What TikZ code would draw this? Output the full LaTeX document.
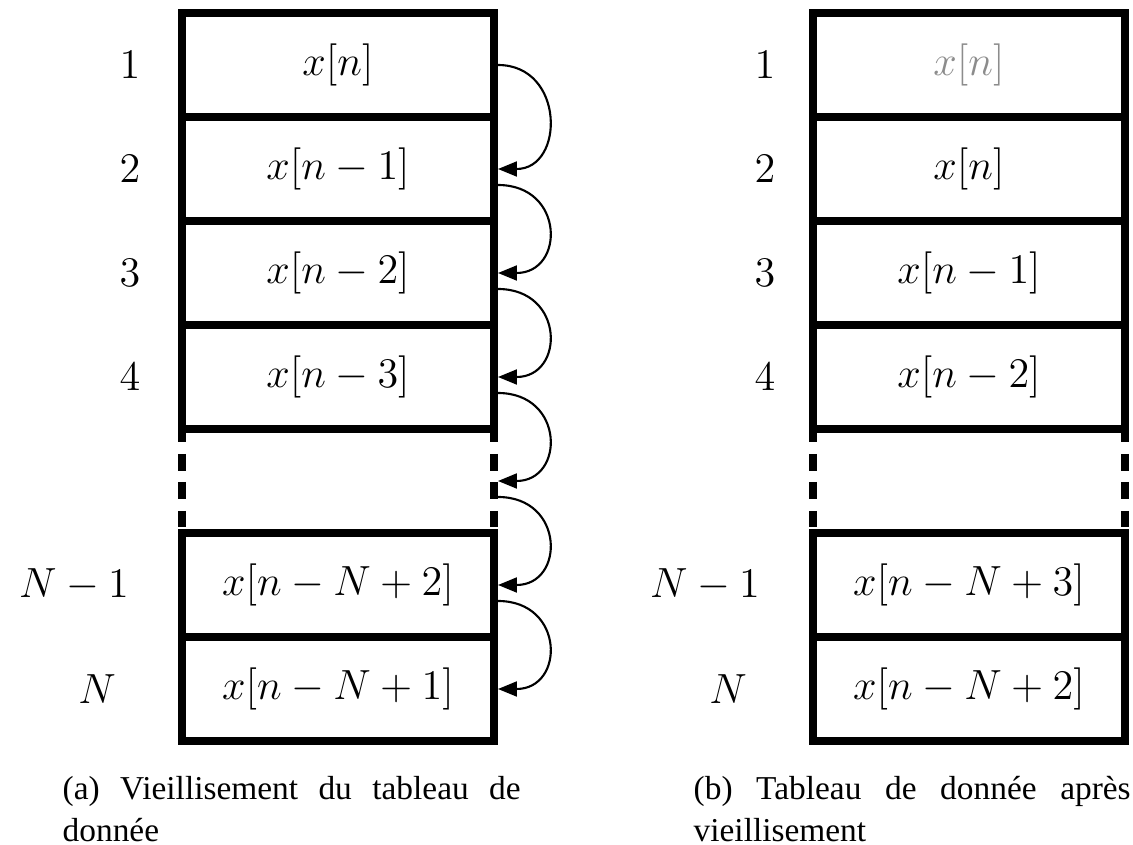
\documentclass[tikz,border=0pt,12pt]{standalone}
\usepackage{fontspec}
\newfontfamily\capfont{Liberation Serif}
\usepackage{tikz}
\usetikzlibrary{arrows.meta,positioning}

\begin{document}
\begin{tikzpicture}[
  cell/.style={draw, line width=0.08cm, minimum width=3.12cm, minimum height=1.04cm, inner sep=0pt},
  idx/.style={inner sep=0pt},
  shiftarc/.style={-{Triangle[length=0.19cm,width=0.15cm]}, line width=0.6pt},
  gapside/.style={line width=0.08cm, dash pattern=on 0.09cm off 0.12cm on 0.17cm off 0.11cm on 0.17cm off 0.12cm on 0.16cm off 0.1cm},
  capline/.style={anchor=base west, inner sep=0pt, font=\capfont\fontsize{9.5}{12}\selectfont}
]
  \useasboundingbox (0,0) rectangle (11.33,8.45);

  % (a) table being aged
  \node[cell] (a1) at (3.38,7.80) {$x[n]$};
  \node[cell] (a2) at (3.38,6.76) {$x[n-1]$};
  \node[cell] (a3) at (3.38,5.72) {$x[n-2]$};
  \node[cell] (a4) at (3.38,4.68) {$x[n-3]$};
  \node[cell] (a5) at (3.38,2.60) {$x[n-N+2]$};
  \node[cell] (a6) at (3.38,1.56) {$x[n-N+1]$};
  \coordinate (ag) at (4.98,3.64);
  \draw[gapside] ([xshift=0.04cm]a4.south west) -- ([xshift=0.04cm]a5.north west);
  \draw[gapside] ([xshift=-0.04cm]a4.south east) -- ([xshift=-0.04cm]a5.north east);

  \node[idx] (la1) at (1.30,7.80) {$1$};
  \node[idx] (la2) at (1.30,6.76) {$2$};
  \node[idx] (la3) at (1.30,5.72) {$3$};
  \node[idx] (la4) at (1.30,4.68) {$4$};
  \node[idx] (la5) at (0.74,2.60) {$N-1$};
  \node[idx] (la6) at (0.97,1.56) {$N$};

  \draw[shiftarc] (a1.east) to[out=0,in=0,distance=0.67cm] (a2.east);
  \draw[shiftarc] ([yshift=-0.16cm]a2.east) to[out=0,in=0,distance=0.67cm] (a3.east);
  \draw[shiftarc] ([yshift=-0.16cm]a3.east) to[out=0,in=0,distance=0.67cm] (a4.east);
  \draw[shiftarc] ([yshift=-0.16cm]a4.east) to[out=0,in=0,distance=0.67cm] (ag);
  \draw[shiftarc] ([yshift=-0.16cm]ag) to[out=0,in=0,distance=0.67cm] (a5.east);
  \draw[shiftarc] ([yshift=-0.16cm]a5.east) to[out=0,in=0,distance=0.67cm] (a6.east);

  % (b) table after ageing
  \node[cell, text=black!45] (b1) at (9.69,7.80) {$x[n]$};
  \node[cell] (b2) at (9.69,6.76) {$x[n]$};
  \node[cell] (b3) at (9.69,5.72) {$x[n-1]$};
  \node[cell] (b4) at (9.69,4.68) {$x[n-2]$};
  \node[cell] (b5) at (9.69,2.60) {$x[n-N+3]$};
  \node[cell] (b6) at (9.69,1.56) {$x[n-N+2]$};
  \draw[gapside] ([xshift=0.04cm]b4.south west) -- ([xshift=0.04cm]b5.north west);
  \draw[gapside] ([xshift=-0.04cm]b4.south east) -- ([xshift=-0.04cm]b5.north east);

  \node[idx] (lb1) at (7.65,7.80) {$1$};
  \node[idx] (lb2) at (7.65,6.76) {$2$};
  \node[idx] (lb3) at (7.65,5.72) {$3$};
  \node[idx] (lb4) at (7.65,4.68) {$4$};
  \node[idx] (lb5) at (7.05,2.60) {$N-1$};
  \node[idx] (lb6) at (7.28,1.56) {$N$};

  % captions
  \node[capline] (capa1) at (0.62,0.45) {\makebox[4.58cm][s]{(a) Vieillisement du tableau de}};
  \node[capline] (capa2) at (0.62,0.03) {donnée};
  \node[capline] (capb1) at (6.93,0.45) {\makebox[4.37cm][s]{(b) Tableau de donnée après}};
  \node[capline] (capb2) at (6.93,0.03) {vieillisement};
\end{tikzpicture}
\end{document}
